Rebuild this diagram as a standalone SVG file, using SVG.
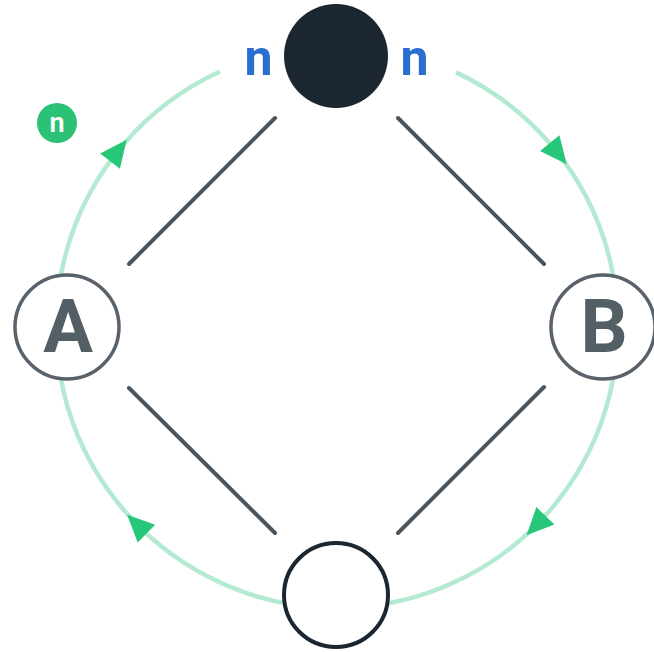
<svg xmlns="http://www.w3.org/2000/svg" width="654" height="652" viewBox="0 0 654 652">
  <style>
    .ring { fill: none; stroke: #b4ead2; stroke-width: 4.5; }
    .link { stroke: #4b555d; stroke-width: 4; stroke-linecap: round; }
    .arrow { fill: #27c779; }
    .node-light { fill: #ffffff; stroke: #59626a; stroke-width: 3.5; }
    .node-empty { fill: #ffffff; stroke: #1b2631; stroke-width: 4; }
    .node-dark { fill: #1b2631; }
    .letter { font-family: Roboto, "Liberation Sans", sans-serif; font-weight: 700; font-size: 74px; fill: #545e65; text-anchor: middle; }
    .count { font-family: Roboto, "Liberation Sans", sans-serif; font-weight: 700; font-size: 50px; fill: #2a6fcf; text-anchor: middle; }
    .badge { fill: #2bc276; }
    .badge-text { font-family: Roboto, "Liberation Sans", sans-serif; font-weight: 600; font-size: 27px; fill: #ffffff; text-anchor: middle; }
  </style>
  <defs>
    <polygon id="head" points="18,0 -9,-12.5 -9,12.5"/>
  </defs>

  <rect width="654" height="652" fill="#ffffff"/>

  <!-- connectors: clockwise ring and the four diagonal links -->
  <g id="connectors">
    <path class="ring" d="M456,72.4 A281,281 0 1,1 220,71.5"/>
    <use href="#head" class="arrow" transform="translate(555.4,150.2) rotate(51)"/>
    <use href="#head" class="arrow" transform="translate(539.1,522.2) rotate(134)"/>
    <use href="#head" class="arrow" transform="translate(140,527.4) rotate(224.5)"/>
    <use href="#head" class="arrow" transform="translate(115.6,154) rotate(-52)"/>
    <line class="link" x1="275" y1="118" x2="129" y2="264"/>
    <line class="link" x1="398" y1="118" x2="544" y2="264"/>
    <line class="link" x1="129" y1="388" x2="275" y2="533"/>
    <line class="link" x1="544" y1="387" x2="398" y2="533"/>
  </g>

  <g id="node-top">
    <circle class="node-dark" cx="336" cy="56" r="52"/>
    <text class="count" x="258.5" y="75">n</text>
    <text class="count" x="414.5" y="75">n</text>
  </g>

  <g id="node-a">
    <circle class="node-light" cx="67" cy="327" r="52"/>
    <text class="letter" x="68" y="352">A</text>
  </g>

  <g id="node-b">
    <circle class="node-light" cx="603" cy="327" r="52"/>
    <text class="letter" x="604" y="352">B</text>
  </g>

  <g id="node-bottom">
    <circle class="node-empty" cx="336" cy="595" r="52"/>
  </g>

  <g id="badge">
    <circle class="badge" cx="57" cy="123" r="20"/>
    <text class="badge-text" x="57" y="132">n</text>
  </g>
</svg>
